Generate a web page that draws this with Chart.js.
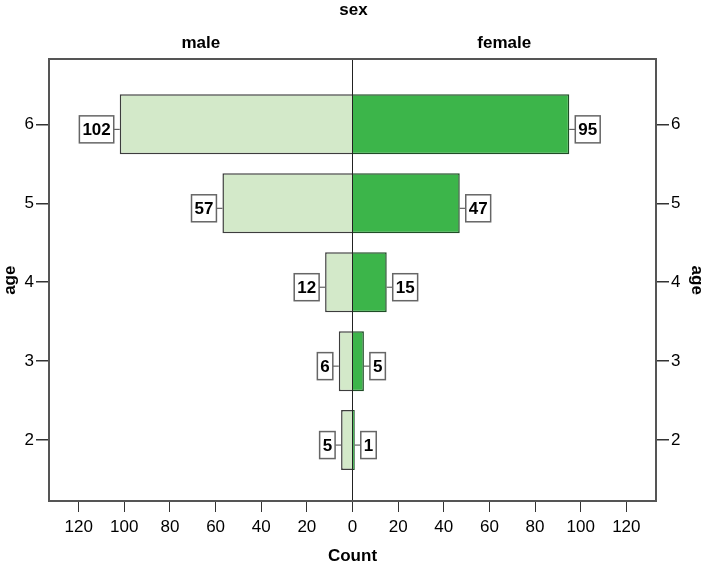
<!DOCTYPE html>
<html>
<head>
<meta charset="utf-8">
<script src="https://cdn.jsdelivr.net/npm/chart.js@4.4.1/dist/chart.umd.min.js"></script>
<style>
  html, body { margin: 0; padding: 0; background: #fff; }
</style>
</head>
<body>
<canvas id="grafico" width="707" height="567"></canvas>
<script>
// dados
const idades = [2, 3, 4, 5, 6];
const masculino = [5, 6, 12, 57, 102];
const feminino = [1, 5, 15, 47, 95];
const ticksContagem = [-120, -100, -80, -60, -40, -20, 0, 20, 40, 60, 80, 100, 120];
const ticksIdade = [2, 3, 4, 5, 6];

const limiteX = 133;
const minY = 1.228;
const maxY = 6.823;

Chart.defaults.font.family = '"Liberation Sans", Arial, sans-serif';
Chart.defaults.color = '#000';

const rotulos = {
    id: 'rotulos',
    afterDatasetsDraw(chart) {
        const ctx = chart.ctx;
        ctx.save();
        ctx.font = 'bold 17px "Liberation Sans", Arial, sans-serif';
        chart.data.datasets.forEach((ds, i) => {
            const meta = chart.getDatasetMeta(i);
            meta.data.forEach((barra, j) => {
                const valor = ds.data[j].x;
                const texto = String(Math.abs(valor));
                const w = ctx.measureText(texto).width + 6;
                const h = 27;
                const esquerda = valor < 0;
                const y = barra.y + 5;
                const bx = esquerda ? barra.x - 6 - w : barra.x + 6;
                ctx.strokeStyle = '#444';
                ctx.lineWidth = 1;
                ctx.beginPath();
                ctx.moveTo(barra.x, y);
                ctx.lineTo(esquerda ? bx + w : bx, y);
                ctx.stroke();
                ctx.fillStyle = '#fff';
                ctx.fillRect(bx, y - h / 2, w, h);
                ctx.strokeStyle = '#666';
                ctx.lineWidth = 1.5;
                ctx.strokeRect(bx, y - h / 2, w, h);
                ctx.fillStyle = '#000';
                ctx.textAlign = 'center';
                ctx.textBaseline = 'middle';
                ctx.fillText(texto, bx + w / 2, y + 1);
            });
        });
        ctx.restore();
    }
};

const eixoIdade = (posicao, largura) => ({
    type: 'linear',
    position: posicao,
    min: minY,
    max: maxY,
    stacked: true,
    offset: false,
    afterBuildTicks: s => { s.ticks = ticksIdade.map(v => ({ value: v })); },
    afterFit: s => { s.width = largura; },
    ticks: { font: { size: 17 }, color: '#000', padding: 2 },
    grid: { offset: false, drawOnChartArea: false, tickLength: 13, tickColor: '#333', lineWidth: 1.5 },
    border: { display: true, color: '#555', width: 2 },
    title: {
        display: true,
        text: 'age',
        font: { size: 17, weight: 'bold' },
        color: '#000',
        padding: { top: 0, bottom: 0 }
    }
});

const ctx = document.getElementById('grafico').getContext('2d');

const grafico = new Chart(ctx, {
    type: 'bar',
    data: {
        datasets: [
            {
                label: 'male',
                data: idades.map((a, i) => ({ x: -masculino[i], y: a })),
                backgroundColor: '#d3e9c9',
                borderColor: '#3d3d3d',
                borderWidth: 1.5,
                borderSkipped: 'start'
            },
            {
                label: 'female',
                data: idades.map((a, i) => ({ x: feminino[i], y: a })),
                backgroundColor: '#3cb54a',
                borderColor: '#1f4d26',
                borderWidth: 1.5,
                borderSkipped: 'start'
            }
        ]
    },
    options: {
        responsive: false,
        devicePixelRatio: 1,
        animation: false,
        indexAxis: 'y',
        categoryPercentage: 1,
        barPercentage: 0.76,
        layout: { padding: 0 },
        plugins: {
            legend: { display: false },
            tooltip: { enabled: false },
            title: {
                display: true,
                text: 'sex',
                font: { size: 17, weight: 'bold' },
                color: '#000',
                padding: { top: 0, bottom: 0 }
            }
        },
        scales: {
            x: {
                type: 'linear',
                position: 'bottom',
                min: -limiteX,
                max: limiteX,
                stacked: true,
                z: 1,
                afterBuildTicks: s => { s.ticks = ticksContagem.map(v => ({ value: v })); },
                afterFit: s => { s.height = 66; },
                ticks: {
                    font: { size: 17 },
                    color: '#000',
                    padding: 5,
                    maxRotation: 0,
                    callback: v => Math.abs(v)
                },
                grid: {
                    color: c => (c.tick && c.tick.value === 0) ? '#222' : 'rgba(0,0,0,0)',
                    tickColor: '#333',
                    tickLength: 11,
                    lineWidth: 1
                },
                border: { display: true, color: '#555', width: 2 },
                title: {
                    display: true,
                    text: 'Count',
                    font: { size: 17, weight: 'bold' },
                    color: '#000',
                    padding: { top: 0, bottom: 0 }
                }
            },
            x2: {
                type: 'linear',
                position: 'top',
                min: -limiteX,
                max: limiteX,
                afterBuildTicks: s => { s.ticks = [{ value: -limiteX / 2 }, { value: limiteX / 2 }]; },
                afterFit: s => { s.height = 39; },
                ticks: {
                    font: { size: 17, weight: 'bold' },
                    color: '#000',
                    padding: 6,
                    maxRotation: 0,
                    callback: v => v < 0 ? 'male' : 'female'
                },
                grid: { display: false, drawTicks: false },
                border: { display: true, color: '#555', width: 2 }
            },
            y: eixoIdade('left', 49),
            y2: eixoIdade('right', 51)
        }
    },
    plugins: [rotulos]
});
</script>
</body>
</html>
